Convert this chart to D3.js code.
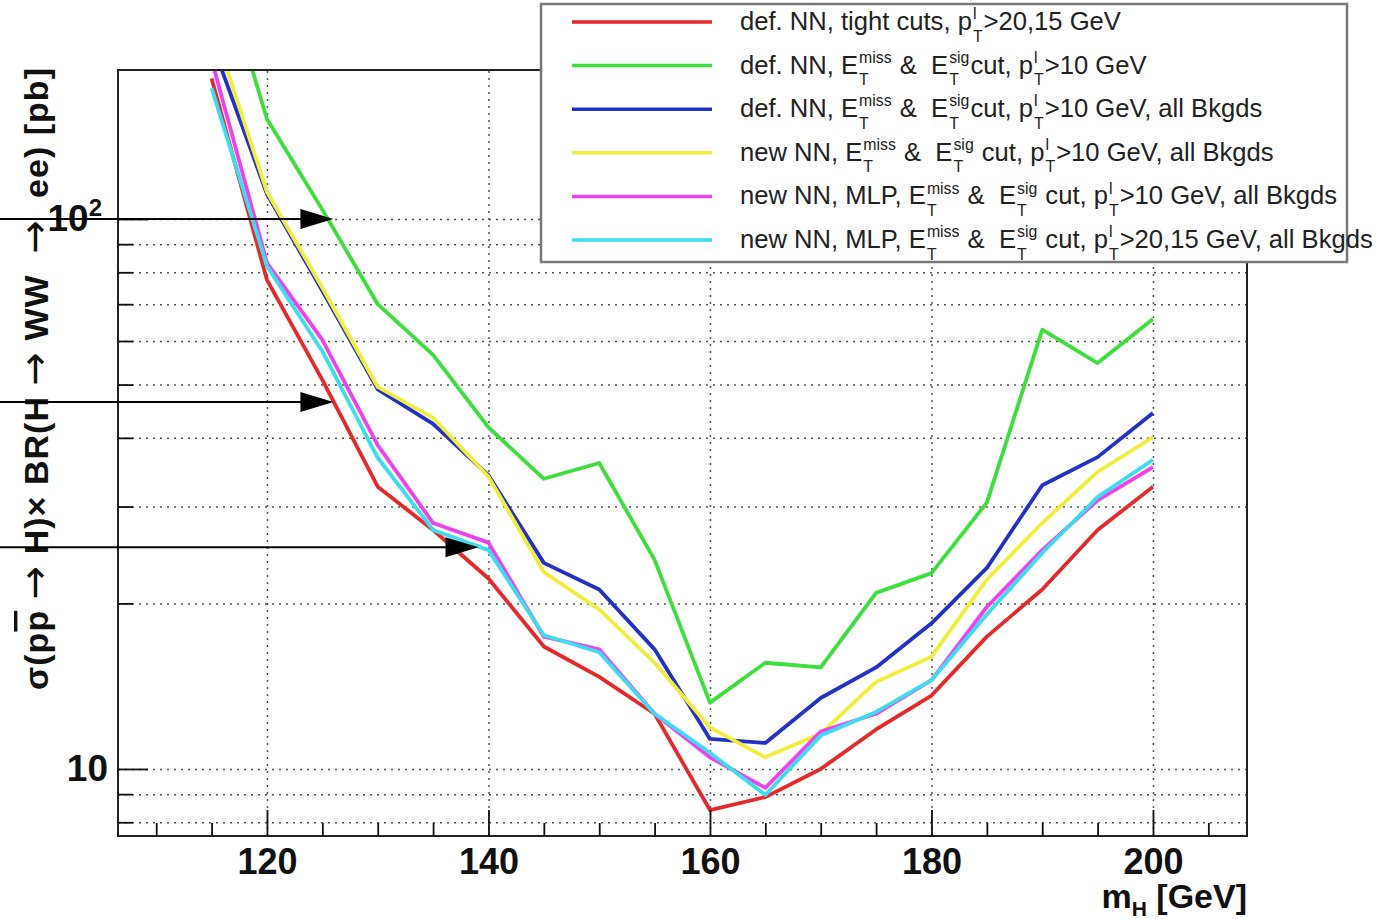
<!DOCTYPE html>
<html>
<head>
<meta charset="utf-8">
<script src="https://cdn.jsdelivr.net/npm/d3@7/dist/d3.min.js"></script>
<style>
  body { margin: 0; background: #fff; }
  svg { display: block; font-family: "Liberation Sans", Arial, Helvetica, sans-serif; }
</style>
</head>
<body>
<div id="chart"></div>
<script>
/* Higgs mass points (GeV) */
const masses = [115, 120, 125, 130, 135, 140, 145, 150, 155, 160, 165, 170, 175, 180, 185, 190, 195, 200];

/* cross section x BR limits [pb], one array per curve */
const defTight = [180, 77.5, 51, 32.6, 27.2, 22.2, 16.7, 14.7, 12.6, 8.42, 8.89, 10.0, 11.8, 13.6, 17.4, 21.2, 27.2, 32.6];
const defMet = [330, 152, 104, 70, 56.6, 41.8, 33.7, 36.0, 24.0, 13.2, 15.6, 15.3, 20.9, 22.7, 30.5, 62.9, 54.7, 65.8];
const defMetAll = [210, 111, 74, 49, 42.4, 34.2, 23.7, 21.2, 16.5, 11.34, 11.15, 13.46, 15.3, 18.4, 23.2, 32.8, 36.9, 44.4];
const newMetAll = [228, 112, 75, 49.5, 43.5, 34.0, 22.8, 19.5, 15.6, 11.9, 10.5, 11.6, 14.4, 16.0, 22.1, 28.0, 34.7, 40.1];
const mlpMetAll = [195, 83.2, 60.3, 38.8, 28.0, 25.8, 17.4, 16.5, 12.6, 10.5, 9.24, 11.7, 12.6, 14.5, 19.7, 25.0, 30.8, 35.4];
const mlpTightAll = [173, 82.1, 57.5, 36.8, 27.2, 25.0, 17.5, 16.3, 12.6, 10.7, 8.97, 11.5, 12.7, 14.5, 19.1, 24.7, 31.2, 36.5];

/* legend labels, ROOT latex style: _{sub}^{sup} stacked */
const seriesNames = [
  "def. NN, tight cuts, p_{T}^{l}>20,15 GeV",
  "def. NN, E_{T}^{miss} &  E_{T}^{sig}cut, p_{T}^{l}>10 GeV",
  "def. NN, E_{T}^{miss} &  E_{T}^{sig}cut, p_{T}^{l}>10 GeV, all Bkgds",
  "new NN, E_{T}^{miss} &  E_{T}^{sig} cut, p_{T}^{l}>10 GeV, all Bkgds",
  "new NN, MLP, E_{T}^{miss} &  E_{T}^{sig} cut, p_{T}^{l}>10 GeV, all Bkgds",
  "new NN, MLP, E_{T}^{miss} &  E_{T}^{sig} cut, p_{T}^{l}>20,15 GeV, all Bkgds"
];
const seriesColors = ["#e42a2a", "#3ddf3d", "#2231c6", "#f0ee3a", "#ee42ee", "#3ddcee"];
const seriesValues = [defTight, defMet, defMetAll, newMetAll, mlpMetAll, mlpTightAll];

/* axis ticks */
const xMajorTicks = [120, 140, 160, 180, 200];
const xMinorTicks = [110, 115, 125, 130, 135, 145, 150, 155, 165, 170, 175, 185, 190, 195, 205];
const yMajorTicks = [10, 100];
const yMinorTicks = [8, 9, 20, 30, 40, 50, 60, 70, 80, 90];

/* annotation arrows drawn from the page edge: level [pb] and tip mass [GeV] */
const arrowLevels = [100, 46.5, 25.3];
const arrowTips = [126, 126, 139.1];

const W = 1384, H = 919;
const frame = { left: 118, right: 1247, top: 70, bottom: 836 };

const svg = d3.select("#chart").append("svg")
  .attr("width", W)
  .attr("height", H);

const x = d3.scaleLinear()
  .domain([106.55, 208.49])
  .range([frame.left, frame.right]);

const y = d3.scaleLog()
  .domain([7.553, 186.6])
  .range([frame.bottom, frame.top]);

const plotW = frame.right - frame.left;
const plotH = frame.bottom - frame.top;

svg.append("defs").append("clipPath")
  .attr("id", "frame-clip")
  .append("rect")
  .attr("x", frame.left)
  .attr("y", frame.top)
  .attr("width", plotW)
  .attr("height", plotH);

// dotted grid
const gridStyle = g => g.call(s => s.select(".domain").remove())
  .selectAll("line")
  .attr("stroke", "#555")
  .attr("stroke-width", 1.5)
  .attr("stroke-dasharray", "2,5");

svg.append("g")
  .attr("transform", `translate(0,${frame.bottom})`)
  .call(d3.axisBottom(x).tickValues(xMajorTicks).tickSize(-plotH).tickFormat(""))
  .call(gridStyle);

svg.append("g")
  .attr("transform", `translate(${frame.left},0)`)
  .call(d3.axisLeft(y).tickValues(yMajorTicks.concat(yMinorTicks)).tickSize(-plotW).tickFormat(""))
  .call(gridStyle);

// curves
const line = d3.line()
  .x((d, i) => x(masses[i]))
  .y(d => y(d));

svg.append("g")
  .attr("clip-path", "url(#frame-clip)")
  .selectAll("path")
  .data(seriesValues)
  .enter()
  .append("path")
  .attr("d", line)
  .attr("fill", "none")
  .attr("stroke", (d, i) => seriesColors[i])
  .attr("stroke-width", 3.8)
  .attr("stroke-linejoin", "round");

// frame
svg.append("rect")
  .attr("x", frame.left)
  .attr("y", frame.top)
  .attr("width", plotW)
  .attr("height", plotH)
  .attr("fill", "none")
  .attr("stroke", "#222")
  .attr("stroke-width", 2);

// ticks (ROOT style, inside the frame)
const tickStyle = g => g.call(s => s.select(".domain").remove())
  .selectAll("line").attr("stroke", "#111").attr("stroke-width", 1.8);

svg.append("g")
  .attr("transform", `translate(0,${frame.bottom})`)
  .call(d3.axisBottom(x).tickValues(xMinorTicks).tickSize(-13).tickFormat(""))
  .call(tickStyle);

const xAxis = svg.append("g")
  .attr("transform", `translate(0,${frame.bottom})`)
  .call(d3.axisBottom(x).tickValues(xMajorTicks).tickSize(-26).tickPadding(12).tickFormat(d3.format("d")))
  .call(tickStyle);

xAxis.selectAll("text")
  .attr("fill", "#111")
  .style("font-size", "36px")
  .style("font-weight", "bold");

svg.append("g")
  .attr("transform", `translate(${frame.left},0)`)
  .call(d3.axisLeft(y).tickValues(yMinorTicks).tickSize(-15).tickFormat(""))
  .call(tickStyle);

const yAxis = svg.append("g")
  .attr("transform", `translate(${frame.left},0)`)
  .call(d3.axisLeft(y).tickValues(yMajorTicks).tickSize(-30).tickPadding(10).tickFormat(d => "10"))
  .call(tickStyle);

yAxis.selectAll("text")
  .attr("fill", "#111")
  .style("font-size", "37px")
  .style("font-weight", "bold");

yAxis.selectAll(".tick")
  .filter(d => d === 100)
  .select("text")
  .attr("dx", -6)
  .append("tspan")
  .attr("dy", -15)
  .style("font-size", "24px")
  .text("2");

// axis titles
svg.append("text")
  .attr("x", frame.right)
  .attr("y", 908)
  .attr("text-anchor", "end")
  .attr("fill", "#111")
  .style("font-size", "34px")
  .style("font-weight", "bold")
  .call(t => {
    t.append("tspan").text("m");
    t.append("tspan").attr("dy", 8).style("font-size", "21px").text("H");
    t.append("tspan").attr("dy", -8).text(" [GeV]");
  });

svg.append("text")
  .attr("transform", "translate(48,690) rotate(-90)")
  .attr("text-anchor", "start")
  .attr("fill", "#111")
  .attr("textLength", 622)
  .attr("lengthAdjust", "spacing")
  .style("font-size", "34px")
  .style("font-weight", "bold")
  .style("white-space", "pre")
  .call(t => {
    const arrow = () => t.append("tspan").style("font-size", "40px").style("font-weight", "normal")
      .style("font-family", "DejaVu Sans").text("→");
    t.append("tspan").text("σ(p");
    t.append("tspan").style("text-decoration", "overline").text("p");
    t.append("tspan").text(" ");
    arrow();
    t.append("tspan").text(" H)× BR(H ");
    arrow();
    t.append("tspan").text(" WW  ");
    arrow();
    t.append("tspan").text("  ee) [pb]");
  });

// arrows
const arrows = svg.append("g");
arrowLevels.forEach((v, i) => {
  const ay = y(v);
  const tip = x(arrowTips[i]);
  arrows.append("line")
    .attr("x1", 0).attr("x2", tip - 20)
    .attr("y1", ay).attr("y2", ay)
    .attr("stroke", "#000")
    .attr("stroke-width", 2);
  arrows.append("path")
    .attr("d", `M${tip},${ay} L${tip - 33},${ay - 10} L${tip - 33},${ay + 10} Z`)
    .attr("fill", "#000");
});

/* splits a ROOT-latex label into plain parts and stacked sub/sup parts */
function parseLabel(s) {
  const parts = [];
  const re = /_\{([^}]*)\}\^\{([^}]*)\}/g;
  let last = 0, m;
  while ((m = re.exec(s))) {
    if (m.index > last) parts.push({ text: s.slice(last, m.index) });
    parts.push({ sub: m[1], sup: m[2] });
    last = re.lastIndex;
  }
  if (last < s.length) parts.push({ text: s.slice(last) });
  return parts;
}

function drawLabel(g, s, x0, y0, size) {
  let cx = x0;
  const addText = (str, tx, ty, fs) => g.append("text")
    .attr("x", tx).attr("y", ty)
    .attr("fill", "#222")
    .style("font-size", fs + "px")
    .style("white-space", "pre")
    .text(str);
  parseLabel(s).forEach(p => {
    if (p.text !== undefined) {
      cx += addText(p.text, cx, y0, size).node().getComputedTextLength();
    } else {
      const fs = size * 0.62;
      const a = addText(p.sup, cx + 1, y0 - size * 0.42, fs).node().getComputedTextLength();
      const b = addText(p.sub, cx + 1, y0 + size * 0.45, fs).node().getComputedTextLength();
      cx += Math.max(a, b) + 2;
    }
  });
}

// legend
const legend = svg.append("g");
legend.append("rect")
  .attr("x", 541)
  .attr("y", 4)
  .attr("width", 806)
  .attr("height", 258)
  .attr("fill", "#fff")
  .attr("stroke", "#777")
  .attr("stroke-width", 2.5);

const rowY = d3.scaleLinear().domain([0, 5]).range([22, 240]);

seriesNames.forEach((name, i) => {
  const ry = rowY(i);
  legend.append("line")
    .attr("x1", 572).attr("x2", 712)
    .attr("y1", ry).attr("y2", ry)
    .attr("stroke", seriesColors[i])
    .attr("stroke-width", 3.5);
  drawLabel(legend, name, 740, ry + 8, 25.6);
});
</script>
</body>
</html>
